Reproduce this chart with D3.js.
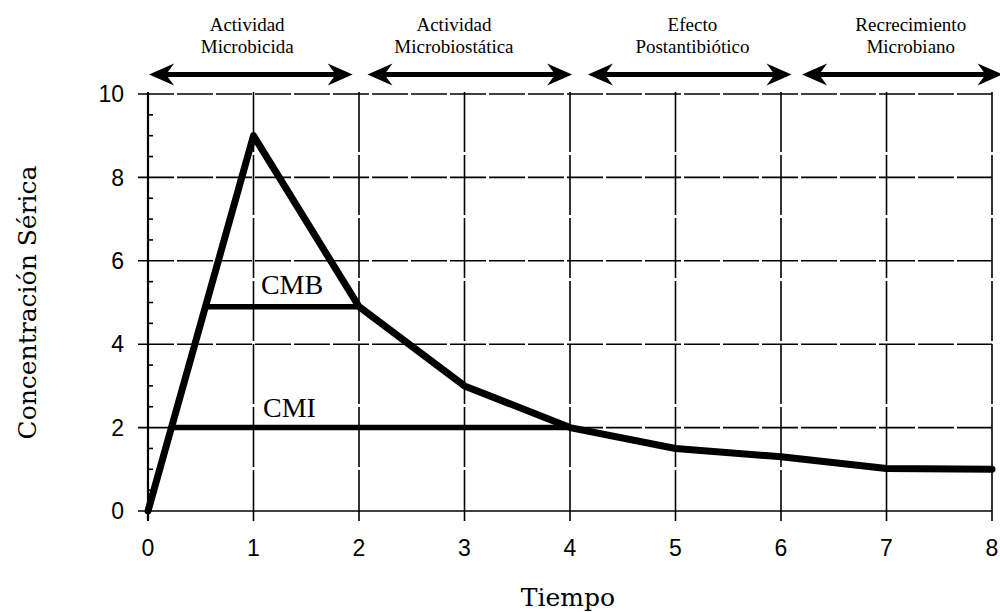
<!DOCTYPE html>
<html>
<head>
<meta charset="utf-8">
<script src="https://cdn.jsdelivr.net/npm/d3@7"></script>
<style>
  body { margin: 0; background: #fff; }
  svg { display: block; }
  .serif { font-family: "Liberation Serif", "Times New Roman", serif; fill: #000; }
  .wide { font-family: "DejaVu Serif", serif; fill: #000; }
  .sans { font-family: "Liberation Sans", Arial, sans-serif; fill: #000; }
</style>
</head>
<body>
<svg id="chart" width="1000" height="612"></svg>
<script>
// data
const xTicks = [0, 1, 2, 3, 4, 5, 6, 7, 8];
const yTicks = [0, 2, 4, 6, 8, 10];
const yMinorTicks = [0.5, 1, 1.5, 2.5, 3, 3.5, 4.5, 5, 5.5, 6.5, 7, 7.5, 8.5, 9, 9.5];

const tiempo = [0, 1, 2, 3, 4, 5, 6, 7, 8];
const concentracion = [0, 9, 4.9, 3, 2, 1.5, 1.3, 1.02, 1.0];

const cmbLine = [[0.55, 4.9], [2, 4.9]];
const cmiLine = [[0.21, 2], [4, 2]];

const phaseNames = [
    ['Actividad', 'Microbicida'],
    ['Actividad', 'Microbiostática'],
    ['Efecto', 'Postantibiótico'],
    ['Recrecimiento', 'Microbiano']
];
const phaseSpans = [[0.01, 1.94], [2.08, 4.02], [4.17, 6.1], [6.2, 8.1]];
const phaseCenters = [0.94, 2.9, 5.16, 7.23];
const arrowLevel = 10.47;

const svg = d3.select('#chart');
const width = 1000, height = 612;
svg.append('rect').attr('width', width).attr('height', height).attr('fill', '#fff');

const x = d3.scaleLinear().domain([0, 8]).range([148, 992]);
const y = d3.scaleLinear().domain([0, 10]).range([511, 94]);

// grid
const grid = svg.append('g').attr('stroke', '#000');
grid.selectAll('line.h')
    .data(yTicks)
    .join('line')
    .attr('class', 'h')
    .attr('x1', x(0) - 10).attr('x2', x(8))
    .attr('y1', d => y(d)).attr('y2', d => y(d))
    .attr('stroke-width', 1.6)
    .attr('stroke-dasharray', d => d === 0 ? null : '36,3');

grid.selectAll('line.v')
    .data(xTicks)
    .join('line')
    .attr('class', 'v')
    .attr('x1', d => x(d)).attr('x2', d => x(d))
    .attr('y1', y(10) - 2).attr('y2', y(0) + 10)
    .attr('stroke-width', d => d === 0 ? 2.2 : 1.6)
    .attr('stroke-dasharray', d => d === 0 ? null : '60,3');

// minor ticks on the y axis, inward
grid.selectAll('line.minor')
    .data(yMinorTicks)
    .join('line')
    .attr('class', 'minor')
    .attr('x1', x(0)).attr('x2', x(0) + 5)
    .attr('y1', d => y(d)).attr('y2', d => y(d))
    .attr('stroke-width', 1.6);

// tick labels
svg.append('g')
    .selectAll('text')
    .data(yTicks)
    .join('text')
    .attr('class', 'sans')
    .attr('x', x(0) - 24)
    .attr('y', d => y(d))
    .attr('dy', '0.36em')
    .attr('text-anchor', 'end')
    .attr('font-size', 23)
    .text(d => d);

svg.append('g')
    .selectAll('text')
    .data(xTicks)
    .join('text')
    .attr('class', 'sans')
    .attr('x', d => x(d))
    .attr('y', y(0) + 45)
    .attr('text-anchor', 'middle')
    .attr('font-size', 23)
    .text(d => d);

// axis titles
svg.append('text')
    .attr('class', 'wide')
    .attr('x', x(3.98))
    .attr('y', 606)
    .attr('text-anchor', 'middle')
    .attr('font-size', 25)
    .text('Tiempo');

svg.append('text')
    .attr('class', 'wide')
    .attr('transform', `translate(36,${y(5.0)}) rotate(-90)`)
    .attr('text-anchor', 'middle')
    .attr('font-size', 25)
    .text('Concentración Sérica');

// CMB / CMI
const line = d3.line().x(d => x(d[0])).y(d => y(d[1]));
svg.append('path')
    .datum(cmbLine)
    .attr('d', line)
    .attr('fill', 'none')
    .attr('stroke', '#000')
    .attr('stroke-width', 5.5);
svg.append('path')
    .datum(cmiLine)
    .attr('d', line)
    .attr('fill', 'none')
    .attr('stroke', '#000')
    .attr('stroke-width', 5.5);

svg.append('text')
    .attr('class', 'serif')
    .attr('x', x(1.07))
    .attr('y', y(4.9) - 13)
    .attr('font-size', 28)
    .text('CMB');
svg.append('text')
    .attr('class', 'serif')
    .attr('x', x(1.09))
    .attr('y', y(2) - 11)
    .attr('font-size', 28)
    .text('CMI');

// main curve
svg.append('path')
    .datum(tiempo.map((t, i) => [t, concentracion[i]]))
    .attr('d', line)
    .attr('fill', 'none')
    .attr('stroke', '#000')
    .attr('stroke-width', 7)
    .attr('stroke-linejoin', 'round')
    .attr('stroke-linecap', 'round');

// phase arrows
const arrowHead = (tipX, tipY, dir) => {
    const len = 25, half = 11, notch = 17;
    return `M${tipX},${tipY}` +
        `L${tipX + dir * len},${tipY - half}` +
        `L${tipX + dir * notch},${tipY}` +
        `L${tipX + dir * len},${tipY + half}Z`;
};

const phases = svg.append('g');
phaseSpans.forEach((span, i) => {
    const x0 = x(span[0]), x1 = x(span[1]), ay = y(arrowLevel);
    phases.append('line')
        .attr('x1', x0 + 15).attr('x2', x1 - 15)
        .attr('y1', ay).attr('y2', ay)
        .attr('stroke', '#000')
        .attr('stroke-width', 5);
    phases.append('path').attr('d', arrowHead(x0, ay, 1)).attr('fill', '#000');
    phases.append('path').attr('d', arrowHead(x1, ay, -1)).attr('fill', '#000');

    phases.append('text')
        .attr('class', 'serif')
        .attr('x', x(phaseCenters[i]))
        .attr('y', 31)
        .attr('text-anchor', 'middle')
        .attr('font-size', 19)
        .text(phaseNames[i][0]);
    phases.append('text')
        .attr('class', 'serif')
        .attr('x', x(phaseCenters[i]))
        .attr('y', 53)
        .attr('text-anchor', 'middle')
        .attr('font-size', 19)
        .text(phaseNames[i][1]);
});
</script>
</body>
</html>
